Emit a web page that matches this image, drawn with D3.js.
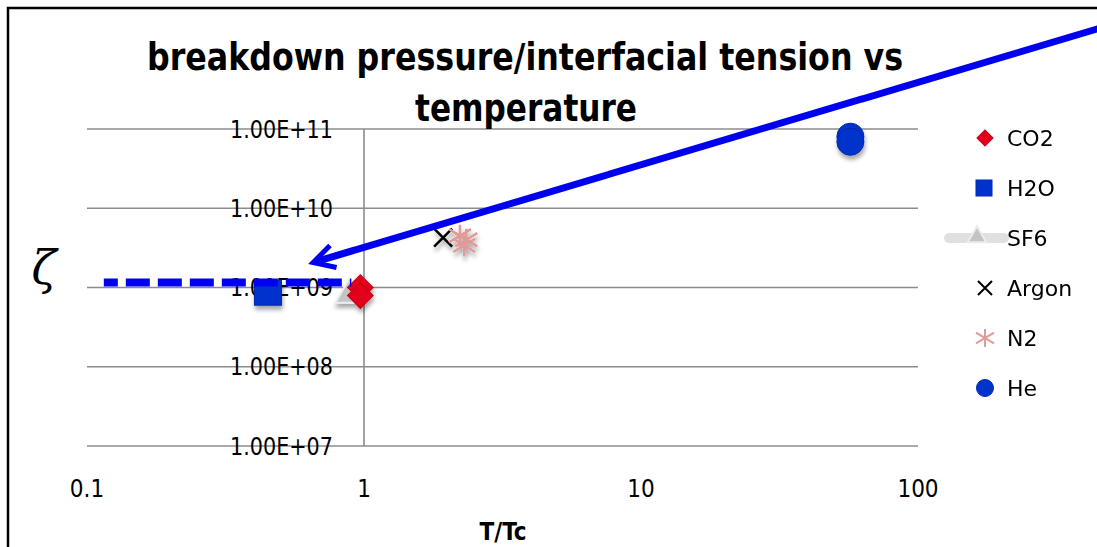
<!DOCTYPE html>
<html>
<head>
<meta charset="utf-8">
<script src="https://cdn.jsdelivr.net/npm/d3@7"></script>
<style>
  body { margin: 0; background: #fff; }
  svg { display: block; }
  .tick-lbl { font-family: "DejaVu Sans Condensed", "DejaVu Sans", sans-serif; font-size: 24px; fill: #000; }
  .title { font-family: "DejaVu Sans Condensed", "DejaVu Sans", sans-serif; font-weight: bold; font-size: 37px; }
  .leg { font-family: "DejaVu Sans", sans-serif; font-size: 22px; }
</style>
</head>
<body>
<div id="chart"></div>
<script>
// data
const xTicks = [0.1, 1, 10, 100];
const yTicks = [1e7, 1e8, 1e9, 1e10, 1e11];
const yTickLabels = ["1.00E+07", "1.00E+08", "1.00E+09", "1.00E+10", "1.00E+11"];

const series = ["CO2", "H2O", "SF6", "Argon", "N2", "He"];
const co2 = [[0.97, 1.0e9], [0.97, 0.79e9]];
const h2o = [[0.45, 0.86e9]];
const sf6 = [[0.88, 0.8e9]];
const argon = [[1.93, 4.27e9]];
const n2 = [[2.22, 4.5e9], [2.34, 4.0e9], [2.30, 3.4e9]];
const he = [[57, 8.0e10], [57, 6.9e10]];

// annotations (in data units)
const dashLine = [[0.115, 1.16e9], [0.9, 1.16e9]];
const arrowTip = [0.655, 2.07e9];

const W = 1097, H = 547;
const svg = d3.select("#chart").append("svg")
  .attr("width", W).attr("height", H);

const defs = svg.append("defs");
const sh = defs.append("filter").attr("id", "shadow")
  .attr("x", "-50%").attr("y", "-50%").attr("width", "200%").attr("height", "200%");
sh.append("feDropShadow").attr("dx", 1).attr("dy", 4).attr("stdDeviation", 2)
  .attr("flood-color", "#000").attr("flood-opacity", 0.35);

const x = d3.scaleLog().domain([0.1, 100]).range([87, 918]);
const y = d3.scaleLog().domain([1e7, 1e11]).range([446, 129]);

// frame
svg.append("path")
  .attr("d", `M8,${H} L8,8 L${W},8`)
  .attr("fill", "none").attr("stroke", "#000").attr("stroke-width", 2.5);

// gridlines
svg.append("g").selectAll("line").data(yTicks).join("line")
  .attr("x1", x(0.1)).attr("x2", x(100))
  .attr("y1", d => y(d)).attr("y2", d => y(d))
  .attr("stroke", "#8c8c8c").attr("stroke-width", 1.6);

// vertical axis crossing at x = 1
svg.append("line")
  .attr("x1", x(1)).attr("x2", x(1))
  .attr("y1", y(1e11)).attr("y2", y(1e7))
  .attr("stroke", "#8c8c8c").attr("stroke-width", 1.6);

// y tick labels
svg.append("g").selectAll("text").data(yTicks).join("text")
  .attr("class", "tick-lbl")
  .attr("x", x(1) - 31).attr("y", d => y(d))
  .attr("dy", "0.36em")
  .attr("text-anchor", "end")
  .attr("textLength", 103).attr("lengthAdjust", "spacingAndGlyphs")
  .text((d, i) => yTickLabels[i]);

// x tick labels
svg.append("g").selectAll("text").data(xTicks).join("text")
  .attr("class", "tick-lbl")
  .attr("x", d => x(d)).attr("y", 497)
  .attr("text-anchor", "middle")
  .text(d => d3.format("~g")(d));

// title
svg.append("text").attr("class", "title")
  .attr("x", 525).attr("y", 70).attr("text-anchor", "middle")
  .attr("textLength", 756).attr("lengthAdjust", "spacingAndGlyphs")
  .text("breakdown pressure/interfacial tension vs");
svg.append("text").attr("class", "title")
  .attr("x", 526).attr("y", 121).attr("text-anchor", "middle")
  .attr("textLength", 222).attr("lengthAdjust", "spacingAndGlyphs")
  .text("temperature");

// axis label
svg.append("text").attr("class", "title")
  .attr("x", 503).attr("y", 540).attr("text-anchor", "middle")
  .style("font-size", "24px")
  .text("T/Tc");

// zeta
svg.append("text")
  .attr("x", 44).attr("y", 284).attr("text-anchor", "middle")
  .style("font-family", "DejaVu Serif, serif").style("font-style", "italic")
  .style("font-size", "46px")
  .text("ζ");

// marker shapes
function drawDiamond(g, px, py, s) {
  g.append("path").attr("d", d3.symbol().type(d3.symbolSquare).size(s)())
    .attr("transform", `translate(${px},${py}) rotate(45)`)
    .attr("fill", "#e3001b").attr("stroke", "#c80018").attr("stroke-width", 1);
}
function drawSquare(g, px, py, w, h) {
  g.append("rect").attr("x", px - w / 2).attr("y", py - h / 2)
    .attr("width", w).attr("height", h)
    .attr("fill", "#0033cc").attr("stroke", "#0028aa").attr("stroke-width", 1);
}
function drawTriangle(g, px, py, s) {
  g.append("path").attr("d", d3.symbol().type(d3.symbolTriangle).size(s)())
    .attr("transform", `translate(${px},${py})`)
    .attr("fill", "#c4c4c4").attr("stroke", "#ececec").attr("stroke-width", 2);
}
function drawCross(g, px, py, r, col, w) {
  g.append("path")
    .attr("d", `M${px - r},${py - r}L${px + r},${py + r}M${px - r},${py + r}L${px + r},${py - r}`)
    .attr("stroke", col).attr("stroke-width", w).attr("fill", "none");
}
function drawStar(g, px, py, r, col, w) {
  const a = r * 0.6;
  g.append("path")
    .attr("d", `M${px},${py - r}L${px},${py + r}M${px - r},${py - a}L${px + r},${py + a}M${px - r},${py + a}L${px + r},${py - a}`)
    .attr("stroke", col).attr("stroke-width", w).attr("fill", "none");
}
function drawCircle(g, px, py, r) {
  g.append("circle").attr("cx", px).attr("cy", py).attr("r", r)
    .attr("fill", "#0033cc").attr("stroke", "#0028b0").attr("stroke-width", 1);
}

// data points
const pts = svg.append("g").attr("filter", "url(#shadow)");
sf6.forEach(d => drawTriangle(pts, x(d[0]), y(d[1]), 300));
h2o.forEach(d => drawSquare(pts, x(d[0]), y(d[1]), 27, 25));
co2.forEach(d => drawDiamond(pts, x(d[0]), y(d[1]), 330));
argon.forEach(d => drawCross(pts, x(d[0]), y(d[1]), 9, "#000", 2.5));
n2.forEach(d => drawStar(pts, x(d[0]), y(d[1]), 11, "#e09a9a", 2.5));
he.forEach(d => drawCircle(pts, x(d[0]), y(d[1]), 13.5));

// dashed annotation line
svg.append("line")
  .attr("x1", x(dashLine[0][0])).attr("x2", x(dashLine[1][0]))
  .attr("y1", y(dashLine[0][1])).attr("y2", y(dashLine[1][1]))
  .attr("stroke", "#0000f0").attr("stroke-width", 8)
  .attr("stroke-dasharray", "24 8").attr("stroke-dashoffset", 10);

// arrow annotation from top right
const tx = x(arrowTip[0]), ty = y(arrowTip[1]);
const sx = W + 5, sy = 27.5;
const ang = Math.atan2(sy - ty, sx - tx);
svg.append("line")
  .attr("x1", sx).attr("y1", sy).attr("x2", tx + 4 * Math.cos(ang)).attr("y2", ty + 4 * Math.sin(ang))
  .attr("stroke", "#0000f0").attr("stroke-width", 7);
const hl = 24, spread = 0.5;
svg.append("path")
  .attr("d", `M${tx + hl * Math.cos(ang - spread)},${ty + hl * Math.sin(ang - spread)}L${tx},${ty}L${tx + hl * Math.cos(ang + spread)},${ty + hl * Math.sin(ang + spread)}`)
  .attr("fill", "none").attr("stroke", "#0000f0").attr("stroke-width", 5)
  .attr("stroke-linejoin", "miter");

// legend
const legY = d3.scalePoint().domain(series).range([138, 388]);
const leg = svg.append("g");
leg.append("line").attr("x1", 949).attr("x2", 1004)
  .attr("y1", legY("SF6")).attr("y2", legY("SF6"))
  .attr("stroke", "#e0e0e0").attr("stroke-width", 10).attr("stroke-linecap", "round");
const legM = leg.append("g");
drawDiamond(legM, 985, legY("CO2"), 130);
drawSquare(legM, 984, legY("H2O"), 16, 16);
drawTriangle(legM, 977, legY("SF6") - 1, 150);
drawCross(legM, 985, legY("Argon"), 7, "#000", 2);
drawStar(legM, 985, legY("N2"), 9, "#e09a9a", 2);
drawCircle(legM, 985, legY("He"), 8.5);
leg.selectAll("text").data(series).join("text")
  .attr("class", "leg")
  .attr("x", 1007).attr("y", d => legY(d)).attr("dy", "0.36em")
  .text(d => d);
</script>
</body>
</html>
